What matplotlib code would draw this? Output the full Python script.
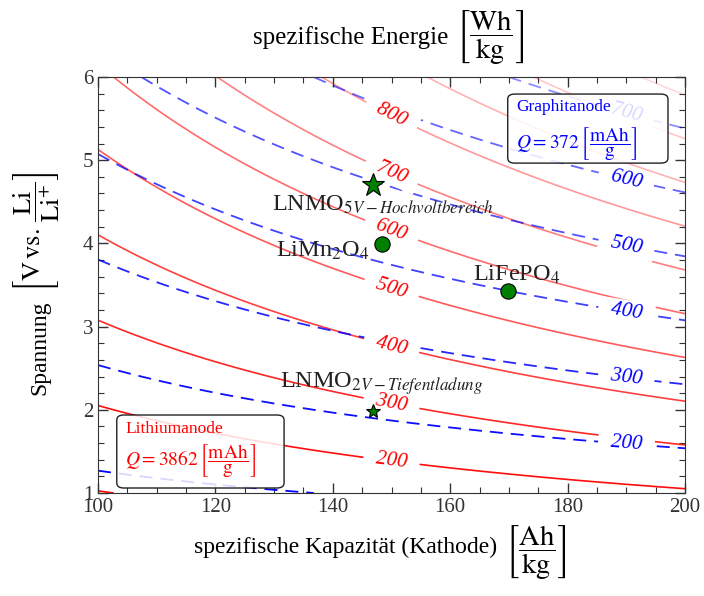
import numpy as np
import matplotlib.pyplot as plt
from matplotlib.patches import FancyBboxPatch
from matplotlib.ticker import MultipleLocator

plt.rcParams['font.family'] = ['Liberation Serif', 'DejaVu Serif']
plt.rcParams['mathtext.fontset'] = 'stix'

# anode capacities [mAh/g]
q_lithium = 3862
q_graphite = 372

# iso-energy levels [Wh/kg]
levels_li = [100, 200, 300, 400, 500, 600, 700, 800, 900, 1000, 1100]
levels_gr = [100, 200, 300, 400, 500, 600, 700]
labels_li = [200, 300, 400, 500, 600, 700, 800]
labels_gr = [200, 300, 400, 500, 600, 700]

# cathode materials
materials = [r'LNMO$_{5V-Hochvoltbereich}$', r'LiMn$_2$O$_4$',
             r'LiFePO$_4$', r'LNMO$_{2V-Tiefentladung}$']
mat_capacity = [146.8, 148.4, 169.8, 146.8]   # Ah/kg
mat_voltage = [4.70, 3.99, 3.43, 1.99]        # V

# styles
mat_marker = ['*', 'o', 'o', '*']
mat_size = [17, 11, 11, 10]
mat_text_pos = [(129.6, 4.39), (130.3, 3.84), (163.9, 3.55), (131.0, 2.27)]
alpha_li = [1.0, 0.95, 0.85, 0.75, 0.65, 0.58, 0.5, 0.4, 0.3, 0.22, 0.15]
alpha_gr = [1.0, 0.95, 0.85, 0.75, 0.68, 0.6, 0.45]


def energy(qc, v, qa):
    return v * qc * qa / (qc + qa)


def volt_at(level, qc, qa):
    return level / qa + level / qc


fig = plt.figure(figsize=(7.04, 5.96), dpi=100)
ax = fig.add_axes([98 / 704, 103 / 596, 587 / 704, 416 / 596])
ax.set_xlim(100, 200)
ax.set_ylim(1, 6)

Q, V = np.meshgrid(np.linspace(100, 200, 500), np.linspace(1, 6, 500))
ax.contour(Q, V, energy(Q, V, q_lithium), levels=levels_li,
           colors=[(1, 0, 0, a) for a in alpha_li], linewidths=1.2, zorder=2)
cs_gr = ax.contour(Q, V, energy(Q, V, q_graphite), levels=levels_gr,
                   colors=[(0, 0, 1, a) for a in alpha_gr], linewidths=1.3, zorder=2)
cs_gr.set_linestyle((0, (7.2, 4.4)))

# contour labels (white box cuts the lines)
for qa, levels, xl, col in [(q_lithium, labels_li, 150, 'red'),
                            (q_graphite, labels_gr, 190, 'blue')]:
    for L in levels:
        y = volt_at(L, xl, qa)
        ang = np.degrees(np.arctan2(-L / xl ** 2, 1.0))
        ax.text(xl, y, f'\u2002{L}\u2002', color=col, fontsize=15, style='italic',
                ha='center', va='center', rotation=ang, transform_rotates_text=True,
                rotation_mode='anchor',
                bbox=dict(boxstyle='square,pad=0.1', fc='white', ec='none'), zorder=3)

# materials
for name, qc, v, m, s, pos in zip(materials, mat_capacity, mat_voltage,
                                  mat_marker, mat_size, mat_text_pos):
    ax.plot(qc, v, marker=m, ms=s, mfc='#008000', mec='black', mew=0.8,
            ls='none', zorder=5)
    ax.text(pos[0], pos[1], name, fontsize=17.5, color='#222222',
            ha='left', va='baseline', zorder=5)

# anode boxes
for (x0, y0, x1, y1), col, title, q, ty, qy in [
        ((0.032, 0.012, 0.317, 0.1875), 'red', 'Lithiumanode', q_lithium, 0.144, 0.075),
        ((0.698, 0.793, 0.971, 0.959), 'blue', 'Graphitanode', q_graphite, 0.918, 0.838)]:
    ax.add_patch(FancyBboxPatch((x0, y0), x1 - x0, y1 - y0,
                                boxstyle='round,pad=0,rounding_size=0.012',
                                transform=ax.transAxes, fc=(1, 1, 1, 0.85),
                                ec='#222222', lw=1.0, zorder=6))
    ax.text(x0 + 0.014, ty, title, color=col, fontsize=12.5,
            transform=ax.transAxes, va='baseline', zorder=7)
    ax.text(x0 + 0.014, qy,
            r'$Q = %d\,\left[\dfrac{\mathrm{mAh}}{\mathrm{g}}\right]$' % q,
            color=col, fontsize=14, transform=ax.transAxes, va='center', zorder=7)

ax.set_xticks(range(100, 201, 20))
ax.set_yticks(range(1, 7))
ax.xaxis.set_minor_locator(MultipleLocator(5))
ax.yaxis.set_minor_locator(MultipleLocator(0.2))
ax.tick_params(which='both', direction='in', top=True, right=True,
               colors='#333333', labelsize=15)
ax.tick_params(which='major', length=7, width=1)
ax.tick_params(which='minor', length=4, width=0.8)
for sp in ax.spines.values():
    sp.set_color('#333333')

# axis titles: plain text + larger unit fraction
t = fig.text(448 / 704, 1 - 38 / 596, 'spezifische Energie', fontsize=18,
             ha='right', va='center')
ax.annotate(r'$\left[\dfrac{\mathrm{Wh}}{\mathrm{kg}}\right]$', xy=(1, 0.5),
            xycoords=t, xytext=(6, 0), textcoords='offset points',
            fontsize=20.5, ha='left', va='center', annotation_clip=False)

t = fig.text(497 / 704, 1 - 547 / 596, 'spezifische Kapazität (Kathode)', fontsize=17,
             ha='right', va='center')
ax.annotate(r'$\left[\dfrac{\mathrm{Ah}}{\mathrm{kg}}\right]$', xy=(1, 0.5),
            xycoords=t, xytext=(6, -4), textcoords='offset points',
            fontsize=20.5, ha='left', va='center', annotation_clip=False)

t = fig.text(40 / 704, 1 - 300 / 596, 'Spannung', fontsize=17, rotation=90,
             ha='center', va='top')
ax.annotate(r'$\left[\mathrm{V\,vs.}\,\dfrac{\mathrm{Li}}{\mathrm{Li}^{+}}\right]$',
            xy=(0.5, 1), xycoords=t, xytext=(-2, 6), textcoords='offset points',
            fontsize=19, rotation=90, ha='center', va='bottom', annotation_clip=False)

fig.savefig('out.png', dpi=100)
